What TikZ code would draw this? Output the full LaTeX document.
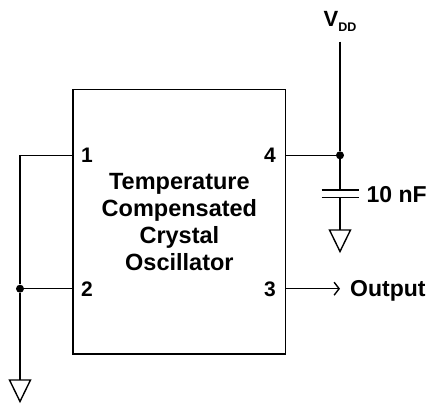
\documentclass[tikz,border=0pt]{standalone}
\usepackage{fontspec}
\setmainfont{Liberation Sans}
\usetikzlibrary{arrows.meta}

\tikzset{
  wire/.style={line width=1.4pt},
  junction/.style={circle, fill, inner sep=0pt, minimum size=8pt},
  pinlabel/.style={inner sep=0pt, anchor=base, font=\bfseries\fontsize{21}{21}\selectfont},
  sidelabel/.style={inner sep=0pt, anchor=base west, font=\bfseries\fontsize{23}{23}\selectfont},
  gnd/.pic={\draw[wire, line join=miter] (-10.5,0) -- (10.5,0) -- (0,21.5) -- cycle;}
}

\begin{document}
\begin{tikzpicture}[x=1pt, y=-1pt]
        \useasboundingbox (0,0) rectangle (432,406);

        % Oscillator package
        \node[draw, wire, minimum width=212.7pt, minimum height=264.7pt] (osc) at (179.4,221.7) {};
        \node[align=center, font=\bfseries\fontsize{23.5}{26.8}\selectfont] (name) at (179.4,222) {Temperature\\Compensated\\Crystal\\Oscillator};

        % Pins on the package
        \coordinate (p1) at (73,155.3);
        \coordinate (p2) at (73,288.7);
        \coordinate (p3) at (285.7,288.7);
        \coordinate (p4) at (285.7,155.3);
        \node[pinlabel] (l1) at (87,163) {1};
        \node[pinlabel] (l2) at (87,296.5) {2};
        \node[pinlabel] (l3) at (270,296.5) {3};
        \node[pinlabel] (l4) at (270,163) {4};

        % Pins 1 and 2 tied to ground
        \coordinate (c1) at (20,155.3);
        \node[junction] (j2) at (20,288.7) {};
        \coordinate (g1) at (20,380);
        \draw[wire] (p1) -- (c1) -- (j2) -- (g1);
        \draw[wire] (j2) -- (p2);
        \pic at (g1) {gnd};

        % Supply with decoupling capacitor
        \node[sidelabel, font=\bfseries\fontsize{22}{22}\selectfont] (vdd) at (323.5,26.7) {V\raisebox{-5pt}{\fontsize{12.5}{12.5}\selectfont DD}};
        \coordinate (vtop) at (340,41.7);
        \node[junction] (j4) at (340,155.3) {};
        \coordinate (ctop) at (340,190);
        \coordinate (cbot) at (340,197.3);
        \coordinate (g2) at (340,230);
        \draw[wire] (vtop) -- (j4) -- (ctop);
        \draw[wire] (p4) -- (j4);
        \draw[wire] ([xshift=-18.5pt]ctop) -- ([xshift=18.5pt]ctop);
        \draw[wire] ([xshift=-18.5pt]cbot) -- ([xshift=18.5pt]cbot);
        \draw[wire] (cbot) -- (g2);
        \pic at (g2) {gnd};
        \node[sidelabel] (cap) at (366.5,202.5) {10 nF};

        % Output
        \node[sidelabel] (out) at (350,296.7) {Output};
        \draw[wire, -{Straight Barb[length=5pt, width=13pt]}] (p3) -- ([xshift=-10pt]out.west |- p3);
\end{tikzpicture}
\end{document}
